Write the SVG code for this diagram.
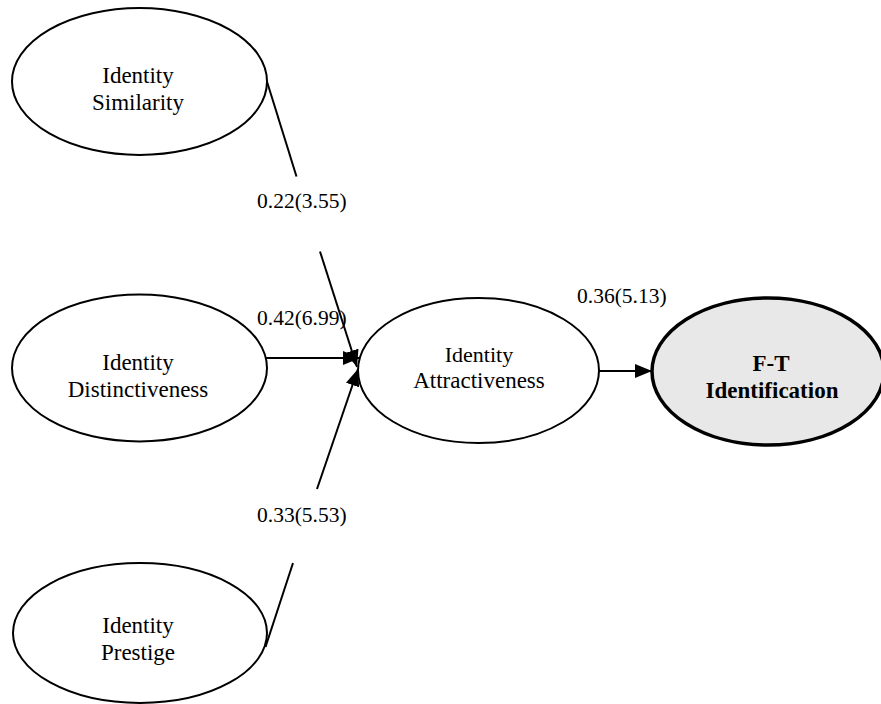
<svg xmlns="http://www.w3.org/2000/svg" width="881" height="704" viewBox="0 0 881 704">
<style>
.node{fill:#fff;stroke:#000;stroke-width:2}
.target{fill:#e8e8e8;stroke:#000;stroke-width:3.5}
.lbl{font-family:"Liberation Serif","Times New Roman",serif;font-size:23px;text-anchor:middle;fill:#000}
.tight{font-size:22px}
.bold{font-weight:bold}
.num{font-family:"Liberation Serif","Times New Roman",serif;font-size:21.5px;fill:#000}
.edge{stroke:#000;stroke-width:2;fill:none}
</style>
<defs>
<marker id="ah" markerUnits="userSpaceOnUse" markerWidth="17" markerHeight="14" refX="17" refY="7" orient="auto">
<path d="M0,0 L17,7 L0,14 z" fill="#000"/>
</marker>
</defs>
<rect width="881" height="704" fill="#fff"/>
<g id="connectors">
<line class="edge" x1="266.5" y1="80" x2="296.5" y2="176.5"/>
<line class="edge" x1="320" y1="251.5" x2="357" y2="367" marker-end="url(#ah)"/>
<line class="edge" x1="266" y1="358" x2="360" y2="358" marker-end="url(#ah)"/>
<line class="edge" x1="265.5" y1="647" x2="293" y2="563"/>
<line class="edge" x1="317" y1="489" x2="358" y2="369" marker-end="url(#ah)"/>
<line class="edge" x1="598" y1="371" x2="652" y2="371" marker-end="url(#ah)"/>
</g>
<g id="labels">
<text class="num" x="257" y="208">0.22(3.55)</text>
<text class="num" x="257" y="325">0.42(6.99)</text>
<text class="num" x="257" y="522">0.33(5.53)</text>
<text class="num" x="577" y="303">0.36(5.13)</text>
</g>
<g id="similarity">
<ellipse class="node" cx="139.5" cy="81.5" rx="127.5" ry="73.5"/>
<text class="lbl" x="138" y="82.5">Identity</text>
<text class="lbl" x="138" y="110">Similarity</text>
</g>
<g id="distinctiveness">
<ellipse class="node" cx="139.5" cy="368" rx="127.5" ry="73.5"/>
<text class="lbl" x="138" y="370">Identity</text>
<text class="lbl" x="138" y="397">Distinctiveness</text>
</g>
<g id="prestige">
<ellipse class="node" cx="140" cy="633" rx="127" ry="70"/>
<text class="lbl" x="138" y="633">Identity</text>
<text class="lbl" x="138" y="660">Prestige</text>
</g>
<g id="attractiveness">
<ellipse class="node" cx="478.5" cy="370.5" rx="120.5" ry="72.5"/>
<text class="lbl tight" x="479" y="362">Identity</text>
<text class="lbl" x="479" y="388">Attractiveness</text>
</g>
<g id="identification">
<ellipse class="target" cx="768" cy="371.5" rx="116" ry="73.5"/>
<text class="lbl bold" x="771" y="371">F-T</text>
<text class="lbl bold" x="772" y="398">Identification</text>
</g>
</svg>
